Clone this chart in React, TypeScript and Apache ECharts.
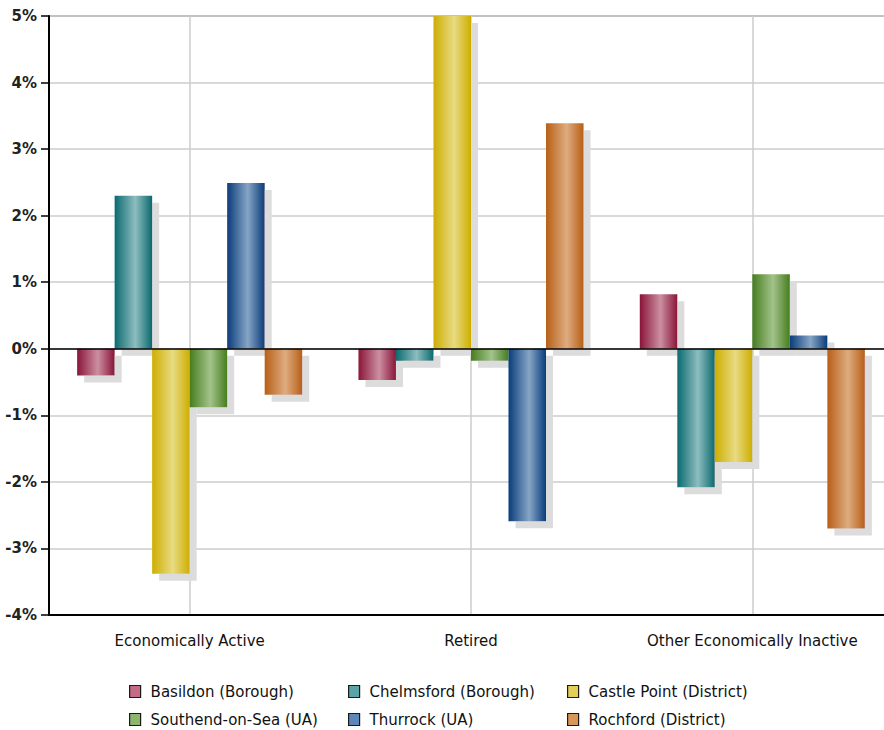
import React, { useEffect, useRef } from "react";
import * as echarts from "echarts";

const categories = ["Economically Active", "Retired", "Other Economically Inactive"];

const seriesNames = [
  "Basildon (Borough)",
  "Chelmsford (Borough)",
  "Castle Point (District)",
  "Southend-on-Sea (UA)",
  "Thurrock (UA)",
  "Rochford (District)",
];

// Percentage-point differences per area, in category order
const basildon = [-0.4, -0.47, 0.82];
const chelmsford = [2.3, -0.18, -2.08];
const castlePoint = [-3.38, 5.0, -1.7];
const southend = [-0.88, -0.18, 1.12];
const thurrock = [2.49, -2.59, 0.2];
const rochford = [-0.69, 3.39, -2.7];

const seriesValues = [basildon, chelmsford, castlePoint, southend, thurrock, rochford];

// dark edge, bright centre, legend swatch
const palette = [
  { dark: "#8a1539", light: "#cc8fa2", swatch: "#c46c86" },
  { dark: "#0b6a6f", light: "#8dbdbf", swatch: "#5aa3a6" },
  { dark: "#ceae00", light: "#e8db82", swatch: "#e3cf55" },
  { dark: "#467d1e", light: "#a3c38b", swatch: "#8cb56d" },
  { dark: "#0a3d7a", light: "#86a5c6", swatch: "#5f87b8" },
  { dark: "#b85f16", light: "#deac80", swatch: "#d9965a" },
];

const yTicks = { min: -4, max: 5, interval: 1 };

// legend columns: each column lists two series, top to bottom
const legendColumns = [
  [0, 3],
  [1, 4],
  [2, 5],
];
const legendLefts = [129, 348, 567];

export default function App() {
  const ref = useRef<HTMLDivElement>(null);

  useEffect(() => {
    if (!ref.current) return;
    const chart = echarts.init(ref.current, null, { renderer: "svg" });

    const series = seriesNames.map((name, i) => {
      const c = palette[i];
      return {
        name,
        type: "bar",
        data: seriesValues[i],
        barGap: "0%",
        barCategoryGap: "20%",
        itemStyle: {
          color: new echarts.graphic.LinearGradient(0, 0, 1, 0, [
            { offset: 0, color: c.dark },
            { offset: 0.55, color: c.light },
            { offset: 1, color: c.dark },
          ]),
          shadowColor: "#dcdcdc",
          shadowOffsetX: 7,
          shadowOffsetY: 7,
          shadowBlur: 0,
        },
        ...(i === 0
          ? {
              markLine: {
                silent: true,
                symbol: ["none", "none"],
                label: { show: false },
                lineStyle: { color: "#000", width: 1.5, type: "solid" },
                data: [{ yAxis: 0 }],
              },
            }
          : {}),
      };
    });

    const legends = legendColumns.map((col, k) => ({
      orient: "vertical",
      left: legendLefts[k],
      top: 684,
      height: 60,
      padding: 0,
      itemWidth: 11,
      itemHeight: 12,
      itemGap: 13,
      icon: "rect",
      selectedMode: false,
      textStyle: {
        fontFamily: "DejaVu Sans",
        fontSize: 15,
        color: "#111",
        padding: [0, 0, 0, 5],
      },
      data: col.map((idx) => ({
        name: seriesNames[idx],
        itemStyle: {
          color: palette[idx].swatch,
          borderColor: "#1a1a1a",
          borderWidth: 1.2,
        },
      })),
    }));

    chart.setOption({
      animation: false,
      backgroundColor: "#ffffff",
      grid: {
        left: 49,
        width: 844,
        top: 16,
        bottom: 115,
        show: true,
        borderColor: "#444",
        borderWidth: 1,
        containLabel: false,
        outerBoundsMode: "none",
      },
      legend: legends,
      xAxis: {
        type: "category",
        data: categories,
        axisLine: { onZero: false, lineStyle: { color: "#000", width: 2 } },
        axisTick: { alignWithLabel: true, length: 8, lineStyle: { color: "#000", width: 2 } },
        splitLine: { show: true, alignWithLabel: true, lineStyle: { color: "#cccccc", width: 1.5 } },
        axisLabel: {
          margin: 18,
          fontFamily: "DejaVu Sans",
          fontSize: 15,
          color: "#111",
        },
      },
      yAxis: {
        type: "value",
        min: yTicks.min,
        max: yTicks.max,
        interval: yTicks.interval,
        axisLine: { show: true, lineStyle: { color: "#000", width: 2 } },
        axisTick: { show: true, length: 8, lineStyle: { color: "#000", width: 1.5 } },
        splitLine: { show: true, lineStyle: { color: "#cccccc", width: 1.5 } },
        axisLabel: {
          margin: 12,
          fontFamily: "DejaVu Sans",
          fontSize: 15,
          fontWeight: "bold",
          color: "#222",
          formatter: (v: number) => `${v}%`,
        },
      },
      series,
    });

    return () => chart.dispose();
  }, []);

  return (
    <div
      ref={ref}
      style={{ position: "fixed", left: 0, top: 0, width: 884, height: 730 }}
    />
  );
}
